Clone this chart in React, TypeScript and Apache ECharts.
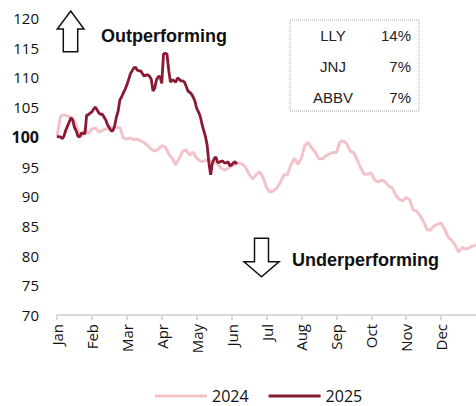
import React, { useEffect, useRef } from "react";
import * as echarts from "echarts";

const months = ["Jan", "Feb", "Mar", "Apr", "May", "Jun", "Jul", "Aug", "Sep", "Oct", "Nov", "Dec"];
const yTicks = [70, 75, 80, 85, 90, 95, 100, 105, 110, 115, 120];

// 2024: 10 observations per month
const perMonth2024 = 10;
const values2024 = [
  100.0, 103.5, 103.7, 103.5, 103.3, 102.7, 101.1, 100.1, 101.1, 100.6,
  101.3, 101.5, 100.8, 101.1, 101.3, 101.5, 101.6, 101.5, 101.6, 99.8,
  99.6, 99.8, 99.5, 99.6, 99.3, 99.0, 98.5, 97.9, 97.6, 97.9,
  98.5, 98.3, 97.1, 96.4, 95.3, 96.4, 97.6, 97.8, 96.9, 97.4,
  96.4, 95.9, 95.9, 96.1, 95.9, 95.8, 95.4, 94.7, 94.4, 94.7,
  95.1, 95.3, 95.6, 95.4, 94.9, 93.7, 92.9, 93.6, 94.1, 93.2,
  91.5, 90.7, 90.9, 91.4, 92.4, 93.6, 93.6, 95.3, 96.4, 95.4,
  96.4, 98.6, 99.0, 98.1, 97.4, 96.3, 96.3, 96.8, 97.1, 97.4,
  97.3, 99.1, 99.3, 98.8, 97.6, 97.3, 96.1, 94.7, 93.7, 93.7,
  93.9, 92.7, 92.4, 92.7, 92.4, 91.7, 91.4, 90.2, 89.5, 89.2,
  89.8, 89.4, 87.7, 87.5, 86.7, 85.7, 84.3, 84.3, 85.0, 85.3,
  85.5, 84.5, 83.1, 82.6, 81.8, 80.6, 81.4, 81.1, 81.3, 81.6,
  81.8,
];

// 2025: 20 observations per month
const perMonth2025 = 20;
const values2025 = [
  100.1, 100.0, 100.0, 99.7, 100.1, 101.1, 101.8, 102.5, 103.2, 102.8,
  101.6, 101.0, 100.1, 100.0, 100.6, 100.6, 100.5, 103.7, 103.7, 104.0,
  104.2, 104.7, 105.0, 104.5, 104.0, 103.8, 103.8, 103.3, 102.8, 102.0,
  101.5, 101.0, 101.0, 101.8, 103.3, 104.3, 106.2, 106.7, 107.4, 108.0,
  108.7, 109.6, 110.6, 111.1, 111.6, 111.7, 111.2, 111.1, 111.1, 110.6,
  110.2, 110.4, 110.4, 110.2, 109.7, 107.7, 108.2, 109.6, 110.1, 110.2,
  109.0, 113.9, 114.1, 113.9, 111.2, 109.2, 109.6, 109.4, 109.2, 109.9,
  109.7, 109.4, 109.4, 109.2, 108.5, 107.7, 107.5, 107.2, 106.7, 106.0,
  104.8, 104.2, 103.5, 102.2, 101.1, 100.1, 98.6, 95.6, 93.6, 95.6,
  96.3, 96.6, 95.7, 95.7, 95.9, 95.9, 95.6, 95.6, 95.8, 95.1,
  95.3, 95.6, 95.8, 95.4,
];

const weightNames = ["LLY", "JNJ", "ABBV"];
const weightValues = ["14%", "7%", "7%"];

const PINK = "#f3c3ca";
const DARK = "#8a1a32";

export default function App() {
  const ref = useRef<HTMLDivElement>(null);

  useEffect(() => {
    document.body.style.margin = "0";
    if (!ref.current) return;
    const chart = echarts.init(ref.current, null, { renderer: "svg" });

    const tableGraphics: any[] = [];
    weightNames.forEach((name, k) => {
      const y = 35 + k * 31;
      tableGraphics.push({
        type: "text",
        x: 333,
        y,
        style: {
          text: name,
          font: "15px 'Liberation Sans', Arial, sans-serif",
          fill: "#222",
          textAlign: "center",
          textVerticalAlign: "middle",
        },
      });
      tableGraphics.push({
        type: "text",
        x: 411,
        y,
        style: {
          text: weightValues[k],
          font: "15px 'Liberation Sans', Arial, sans-serif",
          fill: "#222",
          textAlign: "right",
          textVerticalAlign: "middle",
        },
      });
    });

    const option: any = {
      animation: false,
      backgroundColor: "#fff",
      grid: { left: 57, right: 0, top: 18, bottom: 91, containLabel: false },
      xAxis: {
        type: "value",
        min: 0,
        max: months.length,
        interval: 1,
        splitLine: { show: false },
        axisLine: { show: true, lineStyle: { color: "#d9d9d9", width: 2 } },
        axisTick: { show: true, length: 5, lineStyle: { color: "#d9d9d9", width: 2 } },
        axisLabel: {
          rotate: 90,
          margin: 9,
          fontFamily: "'Open Sans', sans-serif",
          fontSize: 15,
          color: "#111",
          showMaxLabel: false,
          formatter: (v: number) => months[Math.round(v)] ?? "",
        },
      },
      yAxis: {
        type: "value",
        min: yTicks[0],
        max: yTicks[yTicks.length - 1],
        interval: 5,
        splitLine: { show: false },
        axisLine: { show: false },
        axisTick: { show: false },
        axisLabel: {
          margin: 18,
          fontFamily: "'Open Sans', sans-serif",
          fontSize: 15,
          color: "#111",
          formatter: (v: number) => (v === 100 ? "{b|" + v + "}" : String(v)),
          rich: {
            b: {
              fontFamily: "'Open Sans', sans-serif",
              fontSize: 16,
              fontWeight: "bold",
              color: "#111",
            },
          },
        },
      },
      legend: {
        left: 150,
        top: 383,
        icon: "rect",
        itemWidth: 52,
        itemHeight: 3,
        itemGap: 20,
        textStyle: { fontFamily: "'Open Sans', sans-serif", fontSize: 16, color: "#111" },
        data: ["2024", "2025"],
      },
      series: [
        {
          name: "2024",
          type: "line",
          symbol: "none",
          z: 2,
          lineStyle: { color: PINK, width: 3 },
          itemStyle: { color: PINK },
          data: values2024.map((v, i) => [i / perMonth2024, v]),
        },
        {
          name: "2025",
          type: "line",
          symbol: "none",
          z: 3,
          lineStyle: { color: DARK, width: 2.8 },
          itemStyle: { color: DARK },
          data: values2025.map((v, i) => [i / perMonth2025, v]),
        },
      ],
      graphic: [
        {
          type: "polygon",
          shape: {
            points: [
              [70.7, 11], [84, 29], [77.7, 29], [77.7, 51.7], [63.3, 51.7], [63.3, 29], [57.3, 29],
            ],
          },
          style: { fill: "#fff", stroke: "#111", lineWidth: 1.5 },
        },
        {
          type: "text",
          x: 101,
          y: 36,
          style: {
            text: "Outperforming",
            font: "bold 18px 'Liberation Sans', Arial, sans-serif",
            fill: "#111",
            textVerticalAlign: "middle",
          },
        },
        {
          type: "polygon",
          shape: {
            points: [
              [254.5, 238.3], [268.5, 238.3], [268.5, 261.7], [279, 261.7], [261.5, 276.7], [244, 261.7], [254.5, 261.7],
            ],
          },
          style: { fill: "#fff", stroke: "#111", lineWidth: 1.5 },
        },
        {
          type: "text",
          x: 292,
          y: 260,
          style: {
            text: "Underperforming",
            font: "bold 18px 'Liberation Sans', Arial, sans-serif",
            fill: "#111",
            textVerticalAlign: "middle",
          },
        },
        {
          type: "rect",
          shape: { x: 290, y: 20, width: 129, height: 91 },
          style: { fill: "#fff", stroke: "#d4d4d4", lineWidth: 2, lineDash: [1, 1] },
        },
        ...tableGraphics,
      ],
    };

    chart.setOption(option);
    return () => chart.dispose();
  }, []);

  return <div ref={ref} style={{ width: 476, height: 406 }} />;
}
